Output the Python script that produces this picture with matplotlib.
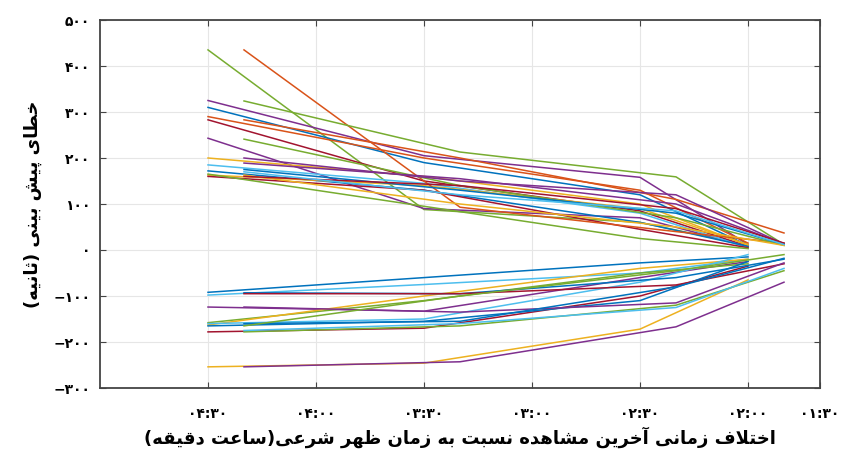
import matplotlib
matplotlib.use('Agg')
import matplotlib.pyplot as plt

# x positions (minutes before solar noon) for the two observation groups
x_a = [270, 210, 150, 120]
x_b = [260, 200, 140, 110]

# prediction error (seconds)
upper_a = [
    [435, 88, 60, 10],
    [325, 205, 158, 12],
    [310, 190, 120, 10],
    [290, 200, 130, 15],
    [283, 150, 85, 8],
    [243, 90, 70, 8],
    [200, 160, 100, 10],
    [185, 145, 80, 5],
    [172, 130, 60, 8],
    [163, 140, 90, 12],
    [160, 130, 45, 5],
    [165, 95, 25, 3],
]
upper_b = [
    [435, 93, 40, 15],
    [324, 213, 159, 12],
    [283, 200, 110, 37],
    [241, 140, 70, 10],
    [200, 150, 120, 13],
    [189, 155, 100, 14],
    [175, 130, 80, 12],
    [163, 100, 50, 10],
    [160, 140, 90, 15],
    [170, 120, 85, 12],
]
lower_a = [
    [-92, -60, -28, -15],
    [-98, -75, -50, -20],
    [-124, -133, -60, -25],
    [-158, -110, -50, -30],
    [-163, -100, -40, -20],
    [-160, -150, -70, -10],
    [-178, -170, -100, -35],
    [-254, -246, -172, -65],
    [-165, -155, -110, -25],
]
lower_b = [
    [-93, -95, -60, -20],
    [-95, -95, -76, -30],
    [-124, -135, -115, -28],
    [-160, -155, -80, -18],
    [-178, -165, -120, -45],
    [-254, -243, -167, -70],
    [-175, -160, -125, -40],
    [-165, -100, -45, -10],
]

y_ticks = [-300, -200, -100, 0, 100, 200, 300, 400, 500]
x_ticks = [270, 240, 210, 180, 150, 120, 100]
x_tick_labels = ['04:30', '04:00', '03:30', '03:00', '02:30', '02:00', '01:30']

x_title = 'اختلاف زمانی آخرین مشاهده نسبت به زمان ظهر شرعی(ساعت دقیقه)'
y_title = 'خطای پیش بینی (ثانیه)'

# MATLAB default line colours
matlab = ['#0072BD', '#D95319', '#EDB120', '#7E2F8E', '#77AC30', '#4DBEEE', '#A2142F']
col_upper_a = [4, 3, 0, 1, 6, 3, 2, 5, 0, 2, 6, 4]
col_upper_b = [1, 4, 1, 4, 3, 3, 0, 2, 6, 5]
col_lower_a = [0, 5, 3, 4, 2, 5, 6, 2, 0]
col_lower_b = [0, 6, 3, 0, 4, 3, 5, 4]


# --- minimal Persian shaping (matplotlib has no complex text layout) ---
FORMS = {
    'ا': ('\uFE8D', '\uFE8E'), 'آ': ('\uFE81', '\uFE82'),
    'د': ('\uFEA9', '\uFEAA'), 'ر': ('\uFEAD', '\uFEAE'),
    'ز': ('\uFEAF', '\uFEB0'),
    'ب': ('\uFE8F', '\uFE90', '\uFE91', '\uFE92'),
    'پ': ('\uFB56', '\uFB57', '\uFB58', '\uFB59'),
    'ت': ('\uFE95', '\uFE96', '\uFE97', '\uFE98'),
    'ث': ('\uFE99', '\uFE9A', '\uFE9B', '\uFE9C'),
    'خ': ('\uFEA5', '\uFEA6', '\uFEA7', '\uFEA8'),
    'س': ('\uFEB1', '\uFEB2', '\uFEB3', '\uFEB4'),
    'ش': ('\uFEB5', '\uFEB6', '\uFEB7', '\uFEB8'),
    'ط': ('\uFEC1', '\uFEC2', '\uFEC3', '\uFEC4'),
    'ظ': ('\uFEC5', '\uFEC6', '\uFEC7', '\uFEC8'),
    'ع': ('\uFEC9', '\uFECA', '\uFECB', '\uFECC'),
    'ف': ('\uFED1', '\uFED2', '\uFED3', '\uFED4'),
    'ق': ('\uFED5', '\uFED6', '\uFED7', '\uFED8'),
    'ل': ('\uFEDD', '\uFEDE', '\uFEDF', '\uFEE0'),
    'م': ('\uFEE1', '\uFEE2', '\uFEE3', '\uFEE4'),
    'ن': ('\uFEE5', '\uFEE6', '\uFEE7', '\uFEE8'),
    'ه': ('\uFEE9', '\uFEEA', '\uFEEB', '\uFEEC'),
    '\u06CC': ('\uFBFC', '\uFBFD', '\uFBFE', '\uFBFF'),
    'لا': ('\uFEFB', '\uFEFC'),
}


def shape(text):
    text = text.replace('\u064A', '\u06CC')
    toks = []
    i = 0
    while i < len(text):
        if text[i] == 'ل' and i + 1 < len(text) and text[i + 1] == 'ا':
            toks.append('لا')
            i += 2
        else:
            toks.append(text[i])
            i += 1
    out = []
    for k, t in enumerate(toks):
        if t not in FORMS:
            out.append({'(': ')', ')': '('}.get(t, t))
            continue
        f = FORMS[t]
        prev = k > 0 and toks[k - 1] in FORMS and len(FORMS[toks[k - 1]]) == 4
        nxt = len(f) == 4 and k + 1 < len(toks) and toks[k + 1] in FORMS
        if prev and nxt:
            out.append(f[3])
        elif prev:
            out.append(f[1])
        elif nxt:
            out.append(f[2])
        else:
            out.append(f[0])
    return ''.join(reversed(out))


def fa_digits(s):
    s = str(s).replace('-', '\u2212')
    return ''.join(chr(0x06F0 + int(c)) if c.isdigit() else c for c in s)


plt.rcParams['font.family'] = ['DejaVu Sans']

fig = plt.figure(figsize=(8.45, 4.57), dpi=100)
ax = fig.add_axes([100 / 845, 69 / 457, 720 / 845, 368 / 457])

for vals, c in zip(upper_a, col_upper_a):
    ax.plot(x_a, vals, color=matlab[c], lw=1.1)
for vals, c in zip(upper_b, col_upper_b):
    ax.plot(x_b, vals, color=matlab[c], lw=1.1)
for vals, c in zip(lower_a, col_lower_a):
    ax.plot(x_a, vals, color=matlab[c], lw=1.1)
for vals, c in zip(lower_b, col_lower_b):
    ax.plot(x_b, vals, color=matlab[c], lw=1.1)

ax.set_xlim(300, 100)
ax.set_ylim(-300, 500)
ax.set_yticks(y_ticks)
ax.set_yticklabels([fa_digits(v) for v in y_ticks], fontweight='bold', fontsize=10)
ax.set_xticks(x_ticks)
ax.set_xticklabels([fa_digits(t) for t in x_tick_labels], fontweight='bold', fontsize=10)
ax.grid(True, color='#e6e6e6', lw=0.8)
ax.set_axisbelow(True)
ax.tick_params(direction='in', length=4, top=True, right=True, color='#444444', pad=7)
ax.tick_params(axis='x', pad=14)
for sp in ax.spines.values():
    sp.set_color('#444444')
    sp.set_linewidth(1.3)

ax.set_xlabel(shape(x_title), fontsize=13, fontweight='bold', labelpad=4)
ax.set_ylabel(shape(y_title), fontsize=13, fontweight='bold', labelpad=8)

fig.savefig('out.png', dpi=100)
